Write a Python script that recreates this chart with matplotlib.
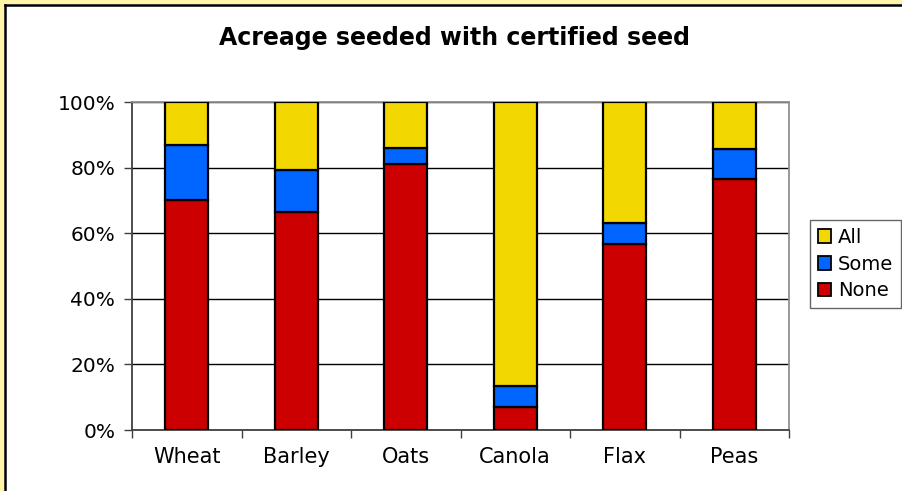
import matplotlib
matplotlib.use("Agg")
import matplotlib.pyplot as plt
from matplotlib.patches import Rectangle
from matplotlib.lines import Line2D
from matplotlib.ticker import FixedLocator, NullFormatter

crops = ["Wheat", "Barley", "Oats", "Canola", "Flax", "Peas"]
none_pct = [70.0, 66.5, 81.0, 7.0, 56.7, 76.5]
some_pct = [17.0, 12.8, 5.0, 6.5, 6.4, 9.2]
all_pct = [13.0, 20.7, 14.0, 86.5, 36.9, 14.3]
y_ticks = [0, 20, 40, 60, 80, 100]
y_labels = ["0%", "20%", "40%", "60%", "80%", "100%"]
title = "Acreage seeded with certified seed"

col_none = "#CC0000"
col_some = "#0066FF"
col_all = "#F2D700"

W, H = 903, 491
fig = plt.figure(figsize=(W / 100, H / 100), dpi=100)
fig.patch.set_facecolor("white")

# page frame strip along top and left edges
fig.patches.append(Rectangle((0, 1 - 4 / H), 1, 4 / H, transform=fig.transFigure,
                             facecolor="#FFF3A6", edgecolor="none", zorder=0))
fig.patches.append(Rectangle((0, 0), 4 / W, 1, transform=fig.transFigure,
                             facecolor="#FFF3A6", edgecolor="none", zorder=0))
fig.lines.append(Line2D([5 / W, 1], [1 - 5 / H, 1 - 5 / H], transform=fig.transFigure,
                        color="black", linewidth=1.8))
fig.lines.append(Line2D([5 / W, 5 / W], [0, 1 - 5 / H], transform=fig.transFigure,
                        color="black", linewidth=1.8))

left, right, top, bottom = 132, 789, 102, 430
ax = fig.add_axes([left / W, 1 - bottom / H, (right - left) / W, (bottom - top) / H])

x = list(range(len(crops)))
bw = 0.39
ekw = dict(edgecolor="black", linewidth=1.6, zorder=3)
b_none = ax.bar(x, none_pct, bw, color=col_none, label="None", **ekw)
b_some = ax.bar(x, some_pct, bw, bottom=none_pct, color=col_some, label="Some", **ekw)
base_all = [a + b for a, b in zip(none_pct, some_pct)]
b_all = ax.bar(x, all_pct, bw, bottom=base_all, color=col_all, label="All", **ekw)

ax.set_xlim(-0.5, len(crops) - 0.5)
ax.set_ylim(0, 100)
ax.set_yticks(y_ticks)
ax.set_yticklabels(y_labels, fontsize=14.5)
ax.yaxis.grid(True, color="black", linewidth=1.0, zorder=1)
ax.set_axisbelow(True)

ax.set_xticks(x)
ax.set_xticklabels(crops, fontsize=15)
ax.tick_params(axis="x", which="major", length=0, pad=12)
ax.xaxis.set_minor_locator(FixedLocator([i - 0.5 for i in range(len(crops) + 1)]))
ax.xaxis.set_minor_formatter(NullFormatter())
ax.tick_params(axis="x", which="minor", length=6, width=1.0, color="#404040", direction="out")
ax.tick_params(axis="y", length=6, width=1.0, color="#404040", direction="out", pad=6)

for s in ["left", "bottom"]:
    ax.spines[s].set_color("#404040")
    ax.spines[s].set_linewidth(1.3)
for s in ["top", "right"]:
    ax.spines[s].set_color("#909090")
    ax.spines[s].set_linewidth(1.3)

fig.text(455 / W, 1 - 38 / H, title, ha="center", va="center",
         fontsize=17, fontweight="bold")

leg = fig.legend(handles=[b_all, b_some, b_none], labels=["All", "Some", "None"],
                 loc="upper left", bbox_to_anchor=(810 / W, 1 - 220 / H),
                 fontsize=14, frameon=True, fancybox=False, edgecolor="#404040",
                 handlelength=0.7, handleheight=0.7, handletextpad=0.35,
                 labelspacing=0.4, borderpad=0.4, borderaxespad=0)
leg.get_frame().set_linewidth(1.0)
for h in leg.legend_handles:
    h.set_linewidth(1.3)

fig.savefig("out.png", dpi=100, facecolor=fig.get_facecolor())
